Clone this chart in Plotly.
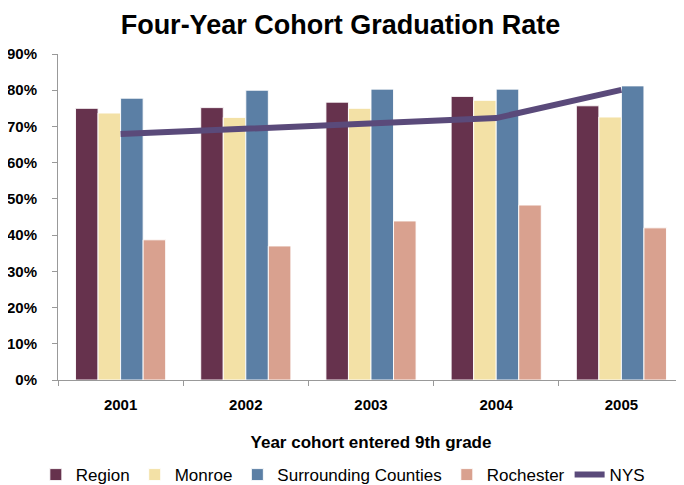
import plotly.graph_objs as go

# Data
years = ['2001', '2002', '2003', '2004', '2005']
region = [75.0, 75.2, 76.7, 78.3, 75.7]
monroe = [73.7, 72.5, 75.0, 77.2, 72.6]
surrounding = [77.8, 80.0, 80.3, 80.3, 81.2]
rochester = [38.7, 37.0, 43.9, 48.3, 42.0]
nys = [67.9, 69.3, 70.9, 72.3, 80.1]
y_ticks = [0, 10, 20, 30, 40, 50, 60, 70, 80, 90]

bar_line = dict(color='rgba(255,255,255,0.9)', width=1)

fig = go.Figure()
fig.add_trace(go.Bar(x=years, y=region, name='Region', marker=dict(color='#66324d', line=bar_line)))
fig.add_trace(go.Bar(x=years, y=monroe, name='Monroe', marker=dict(color='#f3e1a6', line=bar_line)))
fig.add_trace(go.Bar(x=years, y=surrounding, name='Surrounding Counties', marker=dict(color='#5b7fa5', line=bar_line)))
fig.add_trace(go.Bar(x=years, y=rochester, name='Rochester', marker=dict(color='#d9a18f', line=bar_line)))
fig.add_trace(go.Scatter(x=years, y=nys, name='NYS', mode='lines',
                         line=dict(color='#5a4a7a', width=6)))

# page body has an 8px margin, so the margins below are shifted to compensate
fig.update_layout(
    width=684, height=485,
    paper_bgcolor='white', plot_bgcolor='white',
    font=dict(family='Liberation Sans, Arial, sans-serif', color='black'),
    title=dict(text='<b>Four-Year Cohort Graduation Rate</b>', x=0.486, xanchor='center',
               y=0.966, yanchor='middle', font=dict(size=27)),
    margin=dict(l=50, r=8, t=46, b=113),
    barmode='group', bargap=0.28, bargroupgap=0,
    showlegend=True,
    legend=dict(orientation='h', x=0.455, xanchor='center', yref='container',
                y=0.037, yanchor='middle',
                font=dict(size=17), traceorder='normal', itemwidth=30),
)
fig.update_xaxes(
    showline=True, linecolor='#999999', linewidth=1, automargin=False,
    ticks='outside', tickson='boundaries', tickcolor='#999999', ticklen=5,
    tickfont=dict(size=15), showgrid=False, ticklabelstandoff=11,
    title=dict(text='<b>Year cohort entered 9th grade</b>', font=dict(size=17), standoff=24),
    tickprefix='<b>', ticksuffix='</b>',
)
fig.update_yaxes(
    range=[0, 90], tickvals=y_ticks, ticktext=[f'<b>{v}%</b>' for v in y_ticks],
    showline=True, linecolor='#999999', linewidth=1, automargin=False,
    ticks='outside', tickcolor='#999999', ticklen=5, ticklabelstandoff=12,
    tickfont=dict(size=15), showgrid=False, zeroline=False,
)

fig.write_html('out.html')
